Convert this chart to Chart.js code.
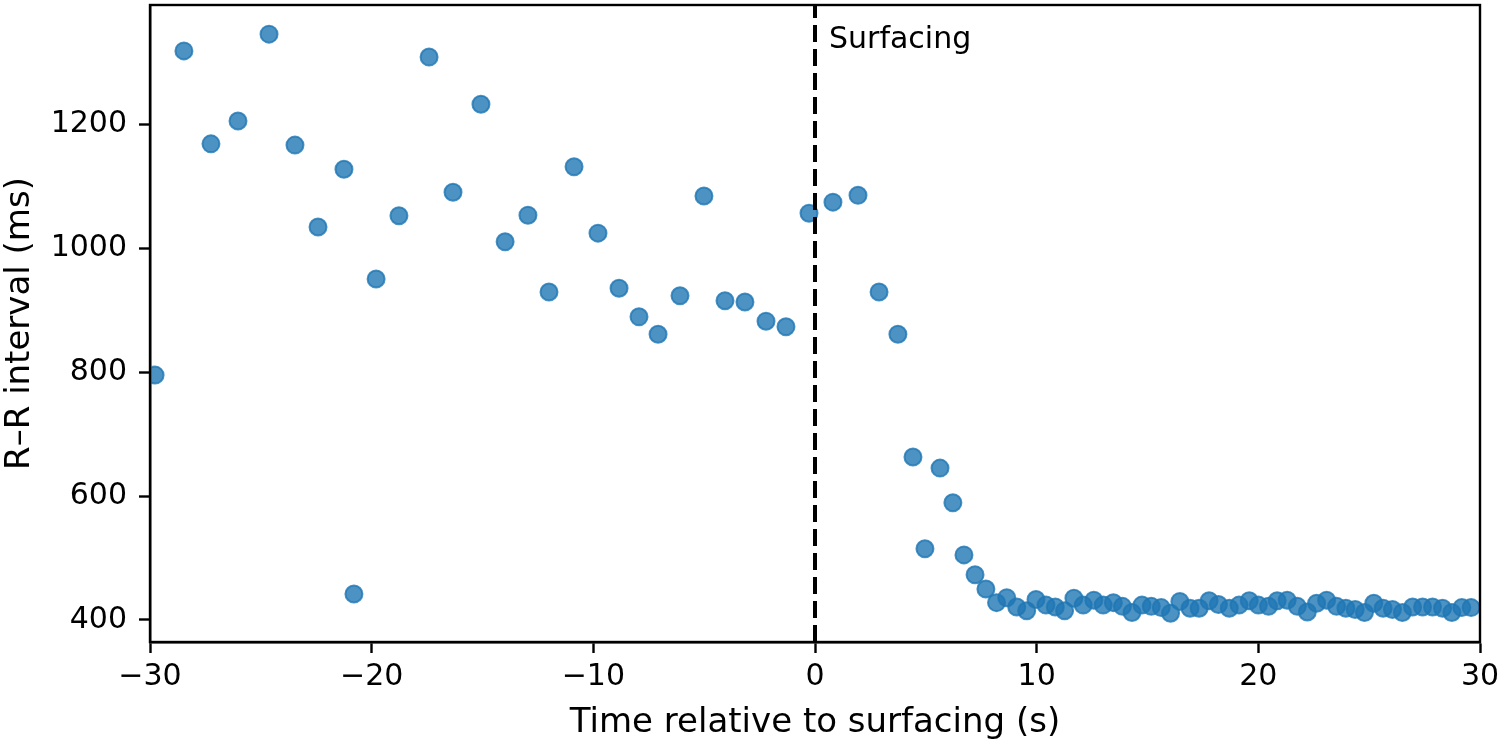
<!DOCTYPE html>
<html>
<head>
<meta charset="utf-8">
<script src="https://cdn.jsdelivr.net/npm/chart.js@4/dist/chart.umd.min.js"></script>
<style>
  html, body { margin: 0; padding: 0; background: #fff; }
  canvas { display: block; }
</style>
</head>
<body>
<canvas id="rr" width="1500" height="746"></canvas>
<script>
// R-R intervals around surfacing
const timeS = [-29.77, -28.47, -27.25, -26.03, -24.63, -23.46, -22.42, -21.25, -20.8, -19.8,
    -18.77, -17.41, -16.33, -15.07, -13.98, -12.95, -12.0, -10.87, -9.79, -8.84,
    -7.94, -7.08, -6.09, -5.01, -4.06, -3.16, -2.21, -1.31, -0.27, 0.81,
    1.94, 2.89, 3.74, 4.42, 4.96, 5.64, 6.22, 6.72, 7.22, 7.71,
    8.19, 8.65, 9.1, 9.55, 9.97, 10.42, 10.84, 11.26, 11.68, 12.1,
    12.58, 13.0, 13.46, 13.87, 14.3, 14.75, 15.17, 15.62, 16.04, 16.46,
    16.92, 17.33, 17.78, 18.2, 18.69, 19.13, 19.59, 20.0, 20.46, 20.85,
    21.3, 21.76, 22.21, 22.63, 23.08, 23.53, 23.95, 24.37, 24.79, 25.21,
    25.63, 26.05, 26.5, 26.96, 27.41, 27.86, 28.31, 28.73, 29.18, 29.6];
const rrMs = [795, 1318, 1168, 1205, 1345, 1166, 1034, 1127, 442, 950,
    1052, 1308, 1090, 1232, 1010, 1053, 929, 1131, 1024, 935,
    889, 861, 923, 1084, 915, 913, 882, 873, 1056, 1074,
    1085, 929, 861, 663, 515, 645, 589, 505, 473, 450,
    428, 436, 421, 415, 433, 424, 421, 415, 435, 424,
    432, 424, 428, 422, 412, 424, 422, 420, 411, 430,
    419, 419, 431, 425, 419, 424, 431, 424, 422, 431,
    432, 422, 413, 427, 432, 422, 419, 417, 412, 427,
    419, 417, 412, 421, 421, 421, 419, 412, 420, 420];

const xTicks = [-30, -20, -10, 0, 10, 20, 30];
const yTicks = [400, 600, 800, 1000, 1200];
const xRange = [-30, 30];
const yRange = [364.5, 1392];
const surfaceT = 0;
const surfaceLabel = 'Surfacing';

const FONT = 'DejaVu Sans';
const TICK_SIZE = 30;
const TITLE_SIZE = 34;
const blue = 'rgba(31,119,180,0.8)';

// frame + text label next to the dashed line
const framePlugin = {
    id: 'frame',
    afterDraw(chart) {
        const { ctx, chartArea: a, scales } = chart;
        ctx.save();
        ctx.strokeStyle = '#000';
        ctx.lineWidth = 2.4;
        ctx.strokeRect(a.left, a.top, a.right - a.left, a.bottom - a.top);
        ctx.fillStyle = '#000';
        ctx.font = TICK_SIZE + 'px "' + FONT + '"';
        ctx.textBaseline = 'alphabetic';
        ctx.fillText(surfaceLabel, scales.x.getPixelForValue(surfaceT) + 14, a.top + 43);
        ctx.restore();
    }
};

const points = timeS.map((t, i) => ({ x: t, y: rrMs[i] }));

new Chart(document.getElementById('rr'), {
    type: 'scatter',
    data: {
        datasets: [
            {
                data: points,
                backgroundColor: blue,
                borderColor: blue,
                borderWidth: 2,
                pointRadius: 8.5,
                order: 2
            },
            {
                type: 'line',
                data: [{ x: surfaceT, y: yRange[0] }, { x: surfaceT, y: yRange[1] }],
                borderColor: '#000',
                borderWidth: 4,
                borderDash: [17, 7],
                pointRadius: 0,
                fill: false,
                order: 1
            }
        ]
    },
    options: {
        responsive: false,
        animation: false,
        layout: { autoPadding: false, padding: { left: 0, right: 20, top: 5, bottom: 0 } },
        plugins: { legend: { display: false }, tooltip: { enabled: false } },
        scales: {
            x: {
                type: 'linear',
                min: xRange[0],
                max: xRange[1],
                afterFit(s) { s.height = 104; s.paddingLeft = 0; s.paddingRight = 0; },
                afterBuildTicks(s) { s.ticks = xTicks.map(v => ({ value: v })); },
                grid: { drawOnChartArea: false, drawTicks: true, tickLength: 11, tickWidth: 2.4, tickColor: '#000' },
                border: { display: true, color: '#000', width: 2.4 },
                ticks: {
                    color: '#000',
                    padding: 6,
                    maxRotation: 0,
                    font: { family: FONT, size: TICK_SIZE },
                    callback: v => String(v).replace('-', '\u2212')
                },
                title: {
                    display: true,
                    text: 'Time relative to surfacing (s)',
                    color: '#000',
                    font: { family: FONT, size: TITLE_SIZE },
                    padding: { top: 0, bottom: 2 }
                }
            },
            y: {
                type: 'linear',
                min: yRange[0],
                max: yRange[1],
                afterFit(s) { s.width = 150; s.paddingTop = 0; s.paddingBottom = 0; },
                afterBuildTicks(s) { s.ticks = yTicks.map(v => ({ value: v })); },
                grid: { drawOnChartArea: false, drawTicks: true, tickLength: 11, tickWidth: 2.4, tickColor: '#000' },
                border: { display: true, color: '#000', width: 2.4 },
                ticks: {
                    color: '#000',
                    padding: 12,
                    font: { family: FONT, size: TICK_SIZE },
                    callback: v => String(v)
                },
                title: {
                    display: true,
                    text: 'R\u2013R interval (ms)',
                    color: '#000',
                    font: { family: FONT, size: TITLE_SIZE },
                    padding: { top: 0, bottom: 0 }
                }
            }
        }
    },
    plugins: [framePlugin]
});
</script>
</body>
</html>
